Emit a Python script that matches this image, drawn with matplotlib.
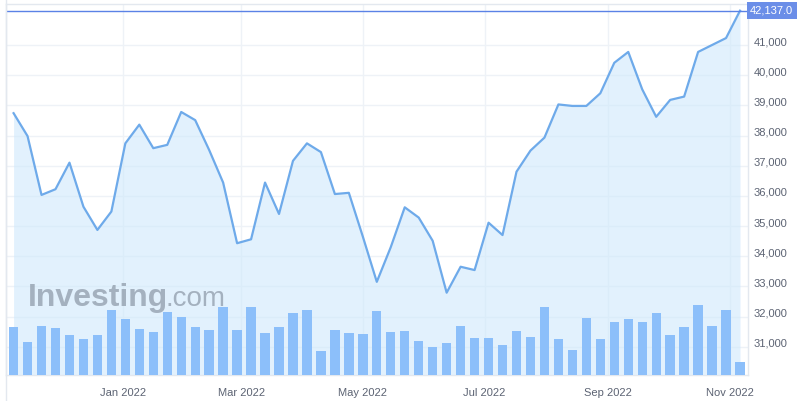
import matplotlib
matplotlib.use("Agg")
import matplotlib.pyplot as plt
import matplotlib.dates as mdates
import matplotlib.transforms as mtransforms
from matplotlib.lines import Line2D
import pandas as pd
import numpy as np

# ---- data ----
start_date = "2021-11-07"
n_weeks = 53
dates = pd.date_range(start_date, periods=n_weeks, freq="7D")

price = [38740, 37980, 36030, 36220, 37100, 35640, 34870, 35480, 37740, 38360,
         37580, 37690, 38780, 38510, 37520, 36440, 34430, 34560, 36440, 35400,
         37160, 37740, 37450, 36060, 36100, 34650, 33150, 34300, 35620, 35280,
         34510, 32790, 33650, 33540, 35110, 34700, 36800, 37500, 37930, 39030,
         38980, 38980, 39400, 40410, 40770, 39530, 38620, 39180, 39290, 40770,
         41000, 41230, 42137]

volume = [1431, 990, 1479, 1401, 1191, 1080, 1191, 1941, 1680, 1371,
          1281, 1881, 1740, 1431, 1341, 2049, 1341, 2031, 1251, 1449,
          1860, 1941, 711, 1341, 1251, 1230, 1911, 1281, 1311, 1029,
          831, 969, 1461, 1119, 1119, 909, 1311, 1140, 2031, 1080,
          741, 1710, 1080, 1599, 1689, 1599, 1860, 1200, 1431, 2091,
          1479, 1941, 399]

last_price = 42137.0
price_ticks = [31000, 32000, 33000, 34000, 35000, 36000, 37000, 38000, 39000, 40000, 41000]
month_ticks = ["2022-01-01", "2022-03-01", "2022-05-01", "2022-07-01", "2022-09-01", "2022-11-01"]

# ---- styling ----
W, H = 800, 401
fig = plt.figure(figsize=(W / 100, H / 100), dpi=100)
fig.patch.set_facecolor("white")

left_px, right_px, top_px, bottom_px = 6, 748, 4, 375
ax = fig.add_axes([left_px / W, 1 - bottom_px / H,
                   (right_px - left_px) / W, (bottom_px - top_px) / H])
ax.set_facecolor("white")

line_color = "#6eaaea"
fill_color = "#cfe8fc"
bar_color = "#8cbffa"
grid_color = "#eef2f7"
text_color = "#5c6373"

ax.fill_between(dates, price, 30000, color=fill_color, alpha=0.6, lw=0, zorder=1)
ax.plot(dates, price, color=line_color, lw=1.6, zorder=3)
ax.axhline(last_price, color="#5b82e6", lw=1.0, zorder=4)

ax.set_ylim(30062, 42359)
xl = mdates.date2num(pd.Timestamp("2022-01-01")) - 58.8
xr = mdates.date2num(pd.Timestamp("2022-11-01")) + 9.0
ax.set_xlim(xl, xr)

mt = [pd.Timestamp(m) for m in month_ticks]
ax.set_xticks(mt)
ax.set_xticklabels([m.strftime("%b %Y") for m in mt], fontfamily="Liberation Sans")
ax.tick_params(axis="x", length=0, pad=9, labelsize=8, labelcolor=text_color)

ax.grid(True, color=grid_color, lw=1.0, zorder=0.5)
ax.set_axisbelow(True)
for s in ["left", "right", "bottom", "top"]:
    ax.spines[s].set_color("#e3e8ef")
    ax.spines[s].set_linewidth(1.0)

# volume axis
axv = ax.twinx()
axv.patch.set_visible(False)
axv.bar(dates, volume, width=4.7, color=bar_color, zorder=2)
axv.set_ylim(0, 371 * 30)
axv.set_yticks([])
axv.set_xlim(xl, xr)
for s in axv.spines.values():
    s.set_visible(False)

# price ticks on the right (after twinx)
ax.yaxis.tick_right()
ax.set_yticks(price_ticks)
ax.set_yticklabels([f"{v:,}" for v in price_ticks], fontfamily="Liberation Sans")
ax.tick_params(axis="y", which="both", left=False, right=False, labelleft=False,
               labelright=True, length=0, pad=4, labelsize=8, labelcolor=text_color)
for lab in ax.get_yticklabels():
    lab.set_verticalalignment("baseline")

# last price label
trans = mtransforms.blended_transform_factory(ax.transAxes, ax.transData)
axv.text(1.003, last_price, f"{last_price:,.1f}", transform=trans,
         color="white", fontsize=8, fontfamily="Liberation Sans",
         va="center", ha="left", zorder=10, clip_on=False,
         bbox=dict(boxstyle="square,pad=0.3", fc="#6b8ee8", ec="none"))

# watermark
fig.text(28 / W, 1 - 306 / H, "Investing", fontsize=23, fontweight="bold",
         fontfamily="Liberation Sans", color="#7c8796", alpha=0.6,
         ha="left", va="baseline", zorder=20)
fig.text(166 / W, 1 - 306 / H, ".com", fontsize=20,
         fontfamily="Liberation Sans", color="#7c8796", alpha=0.6,
         ha="left", va="baseline", zorder=20)

# left border line extending full height
fig.add_artist(Line2D([left_px / W, left_px / W], [0, 1], color="#e3e8ef", lw=1.0))

fig.savefig("out.png", dpi=100, facecolor="white")
